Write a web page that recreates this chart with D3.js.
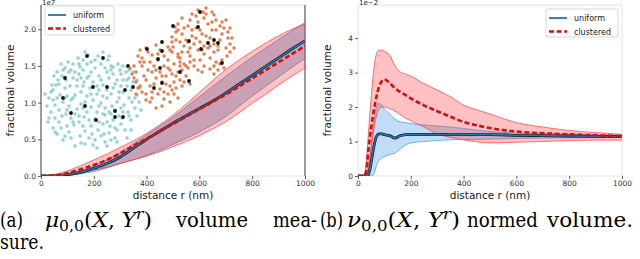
<!DOCTYPE html>
<html lang="en">
<head>
<meta charset="utf-8">
<style type="text/css">
    body { margin: 0; background: #fff; }
    .tick text { font-family: "DejaVu Sans", sans-serif; font-size: 7.5px; fill: #333; }
    .tick line { stroke: #333; stroke-width: 0.8; }
    .axlabel { font-family: "DejaVu Sans", sans-serif; font-size: 10.5px; fill: #222; }
    .legtext { font-family: "DejaVu Sans", sans-serif; font-size: 8px; fill: #222; }
    .cap { font-family: "DejaVu Serif", serif; font-size: 19.5px; fill: #000; }
</style>
</head>
<body>
<svg width="640" height="259"></svg>
<script src="https://d3js.org/d3.v7.min.js"></script>
<script type="text/javascript">

    // (a) volume measure, units of 1e7
    var rA = [0, 50, 100, 150, 200, 250, 300, 350, 400, 450, 500, 550, 600, 650, 700, 750, 800, 850, 900, 950, 1000];
    var uniformMeanA   = [0, 0.003, 0.02, 0.05, 0.105, 0.17, 0.26, 0.38, 0.50, 0.61, 0.72, 0.82, 0.92, 1.02, 1.13, 1.25, 1.37, 1.49, 1.61, 1.73, 1.84];
    var uniformHiA     = [0, 0.005, 0.03, 0.07, 0.14, 0.22, 0.32, 0.44, 0.56, 0.68, 0.80, 0.94, 1.08, 1.22, 1.36, 1.49, 1.62, 1.74, 1.86, 1.98, 2.09];
    var uniformLoA     = [0, 0.001, 0.01, 0.03, 0.06, 0.11, 0.17, 0.22, 0.28, 0.35, 0.43, 0.51, 0.60, 0.70, 0.81, 0.95, 1.09, 1.22, 1.35, 1.48, 1.60];
    var clusteredMeanA = [0, 0.008, 0.04, 0.09, 0.15, 0.22, 0.31, 0.41, 0.51, 0.61, 0.71, 0.81, 0.91, 1.01, 1.11, 1.22, 1.33, 1.44, 1.55, 1.66, 1.77];
    var clusteredHiA   = [0, 0.02, 0.07, 0.14, 0.22, 0.30, 0.39, 0.48, 0.58, 0.70, 0.83, 0.98, 1.14, 1.30, 1.45, 1.58, 1.70, 1.81, 1.91, 2.00, 2.07];
    var clusteredLoA   = [0, 0.0, 0.01, 0.04, 0.08, 0.12, 0.17, 0.22, 0.27, 0.33, 0.40, 0.47, 0.55, 0.64, 0.74, 0.86, 0.99, 1.11, 1.24, 1.36, 1.47];

    // (b) normed volume, units of 1e-2
    var rB = [0, 20, 30, 40, 50, 60, 70, 80, 90, 100, 120, 140, 160, 180, 200, 250, 300, 350, 400, 450, 500, 600, 700, 800, 900, 1000];
    var uniformMeanB   = [0, 0, 0, 0.05, 0.4, 0.85, 1.15, 1.22, 1.22, 1.2, 1.17, 1.1, 1.17, 1.2, 1.21, 1.21, 1.21, 1.2, 1.2, 1.2, 1.2, 1.18, 1.17, 1.16, 1.15, 1.14];
    var uniformHiB     = [0, 0, 0, 0.2, 0.9, 1.6, 2.0, 2.1, 2.05, 1.95, 1.8, 1.65, 1.57, 1.55, 1.52, 1.48, 1.45, 1.42, 1.38, 1.33, 1.29, 1.25, 1.23, 1.21, 1.19, 1.18];
    var uniformLoB     = [0, 0, 0, 0, 0, 0.05, 0.3, 0.45, 0.52, 0.56, 0.62, 0.66, 0.78, 0.9, 0.96, 1.0, 1.03, 1.05, 1.06, 1.06, 1.07, 1.09, 1.1, 1.11, 1.11, 1.12];
    var clusteredMeanB = [0, 0, 0.1, 0.8, 1.4, 1.9, 2.3, 2.6, 2.75, 2.8, 2.7, 2.55, 2.44, 2.35, 2.25, 2.05, 1.88, 1.72, 1.57, 1.47, 1.39, 1.29, 1.24, 1.21, 1.18, 1.16];
    var clusteredHiB   = [0, 0, 0.3, 1.3, 2.3, 3.1, 3.55, 3.65, 3.65, 3.62, 3.5, 3.2, 3.02, 2.96, 2.9, 2.68, 2.5, 2.3, 2.06, 1.92, 1.8, 1.55, 1.42, 1.32, 1.26, 1.21];
    var clusteredLoB   = [0, 0, 0, 0.3, 0.8, 1.35, 1.75, 1.95, 2.0, 2.0, 1.95, 1.88, 1.78, 1.68, 1.6, 1.42, 1.22, 1.12, 1.05, 0.99, 0.96, 0.98, 1.0, 1.03, 1.04, 1.04];

    var xTicks = [0, 200, 400, 600, 800, 1000];
    var yTicksA = [0, 0.5, 1.0, 1.5, 2.0];
    var yTicksB = [0, 1, 2, 3, 4];
    var legendNames = ["uniform", "clustered"];

    // inset point clouds (offsets from each cloud's centre)
    var cyanPts = [[-40,-10],[-35,-20],[-38,5],[-42,12],[-30,-30],[-25,-38],[-15,-42],[-5,-45],[5,-44],[15,-40],[25,-36],[33,-28],[40,-18],[44,-5],[42,8],[38,20],[32,30],[22,38],[12,42],[0,45],[-12,43],[-22,38],[-32,28],[-38,18],
        [-28,-12],[-20,-22],[-10,-30],[2,-32],[14,-28],[24,-20],[30,-8],[31,5],[26,16],[17,26],[5,30],[-8,31],[-19,25],[-27,14],[-30,2],
        [-18,-5],[-10,-14],[0,-18],[10,-15],[18,-6],[19,6],[12,15],[2,19],[-9,17],[-16,9],[-6,-4],[4,-6],[8,3],[-2,7],[0,0],
        [-44,-2],[-36,-28],[-20,-36],[-2,-38],[20,-33],[36,-22],[46,2],[35,12],[28,24],[16,33],[-4,38],[-24,32],[-34,22],[-41,-15],
        [-33,-5],[-24,-28],[-12,-22],[6,-24],[20,-12],[26,-2],[22,10],[10,24],[-14,22],[-24,6],[-12,-8],[6,-10],[12,8],[-6,12],[-3,-12],[14,-2],
        [-46,6],[-39,-24],[-8,-48],[10,-48],[30,-34],[47,-12],[44,16],[24,42],[4,48],[-18,46],[-36,34],[-45,22],
        [-27,-20],[-16,-14],[-4,-24],[16,-22],[28,-14],[36,-2],[34,-14],[30,12],[20,20],[-2,26],[-10,26],[-22,18],[-34,10],[-36,-2],
        [-20,-2],[-8,2],[10,-4],[4,12],[-12,4],[24,2],[-26,-4],[8,-20],[-18,14],[14,22],
        [-40,28],[-14,-36],[40,-28],[38,30],[-30,40],[8,36],[-42,-8],[28,-26],[2,-40],[-28,-32],[18,40],[42,-2],
        [-37,-15],[-31,-24],[-22,-30],[-13,-33],[-6,-36],[8,-36],[18,-34],[27,-30],[34,-20],[38,-10],[39,2],[36,16],[29,18],[22,28],[11,34],[-1,34],[-13,36],[-26,26],[-31,16],[-40,0],
        [-23,-14],[-14,-26],[-2,-28],[12,-32],[20,-26],[26,-8],[28,8],[18,14],[6,22],[-4,20],[-14,16],[-22,0],[-9,-18],[4,-14],[14,-10],[16,12],[-6,-22],[22,-16],[-20,22],[-28,-2],
        [-44,18],[-48,-6],[-32,-36],[-10,-40],[16,-44],[36,-30],[44,-20],[48,10],[34,38],[14,46],[-8,44],[-28,36],[-38,32],
        [-2,-6],[6,6],[-10,8],[10,14],[-16,-20],[18,-30],[30,-20],[24,30],[-26,10],[-34,-16],[2,40],[-18,-28]];
    var cyanBlack = [[-28,-22],[-6,-44],[10,-42],[35,-34],[40,-13],[0,-13],[14,-13],[32,-10],[-8,6],[-22,13],[3,20],[22,11],[22,17],[30,17],[-30,-2]];

    var orangePts = [[-13,-21],[-10,-31],[-3,-40],[7,-44],[18,-46],[29,-43],[37,-36],[43,-26],[45,-14],[42,-2],[35,6],[25,11],[13,12],[1,8],[-7,-1],[-12,-11],
        [-3,-24],[3,-32],[13,-36],[23,-34],[31,-28],[35,-18],[33,-8],[25,0],[15,2],[5,-2],[-1,-12],[7,-22],[17,-24],[25,-20],[23,-10],[13,-8],[9,-14],[15,-16],
        [-7,-34],[41,-38],[47,-20],[39,10],[-5,8],[21,-50],[-15,-8],[29,16],[1,-18],[29,-14],[19,-4],[11,-30],[37,-24],[5,4],[27,-36],[-9,-18],[41,-10],[31,4],[9,8],[19,-40],
        [-51,8],[-47,-2],[-39,-10],[-29,-13],[-17,-11],[-7,-4],[-1,6],[1,18],[-3,28],[-11,36],[-21,41],[-33,40],[-43,34],[-49,24],
        [-41,4],[-33,-3],[-21,-2],[-11,6],[-9,18],[-15,28],[-25,31],[-35,28],[-41,18],[-31,8],[-21,8],[-19,18],[-29,20],[-25,14],
        [-53,16],[-45,-8],[-13,-16],[3,10],[-7,40],[-39,42],[-23,48],[5,26],[-37,12],[-15,12],[-23,24],[-27,2],[-5,4],[-33,34],[-11,24],[-45,28],[-17,36],[-43,0],
        [-9,-26],[-5,-16],[-1,-30],[5,-38],[11,-42],[21,-44],[31,-38],[39,-30],[43,-20],[45,-6],[37,2],[29,8],[19,8],[9,2],[3,-6],[-3,-6],
        [7,-28],[15,-28],[21,-22],[27,-28],[33,-12],[29,-6],[19,-12],[11,-20],[5,-10],[17,-8],[25,-12],[3,-16],[-7,-28],[35,-32],[27,-46],[13,-48],[45,-30],[49,-10],[33,12],[17,14],
        [-49,14],[-45,4],[-37,-6],[-25,-8],[-13,-6],[-5,0],[-3,12],[-5,22],[-13,32],[-27,36],[-39,36],[-47,30],[-51,20],
        [-35,4],[-27,-4],[-17,2],[-13,16],[-19,26],[-31,26],[-39,22],[-33,14],[-23,18],[-17,10],[-29,12],[-43,8],[-7,14],[-9,30],[-21,34],[-35,44],[-49,36],[-55,10],[-1,24],[-15,44],[-29,50]];
    var orangeBlack = [[15,-46],[-12,-32],[13,-31],[-23,-16],[4,-17],[23,-15],[29,-18],[33,-15],[-38,-9],[-23,-7],[16,-9],[-27,1],[37,5],[-25,10],[-5,14],[4,23],[-31,30],[-23,25]];

    var blue = "#1f77b4", red = "#cc1111";

    var svg = d3.select("svg");

    var xa = d3.scaleLinear().domain([0, 1000]).range([41, 305]);
    var ya = d3.scaleLinear().domain([0, 2.33]).range([176, 5]);
    var xb = d3.scaleLinear().domain([0, 1000]).range([358, 622]);
    var yb = d3.scaleLinear().domain([0, 4.96]).range([176, 5]);

    // cloud scales
    var xCyan = d3.scaleLinear().domain([-50, 50]).range([43, 143]);
    var yCyan = d3.scaleLinear().domain([-50, 50]).range([50, 150]);
    var xOr = d3.scaleLinear().domain([-50, 50]).range([135, 235]);
    var yOr = d3.scaleLinear().domain([-50, 50]).range([8, 108]);

    function clip(id, x, y) {
        svg.append("clipPath").attr("id", id).append("rect")
            .attr("x", x.range()[0]).attr("y", y.range()[1])
            .attr("width", x.range()[1] - x.range()[0])
            .attr("height", y.range()[0] - y.range()[1]);
    }
    clip("clipA", xa, ya);
    clip("clipB", xb, yb);

    function frame(x, y, leftCol, rightCol) {
        var g = svg.append("g");
        var x0 = x.range()[0], x1 = x.range()[1], y0 = y.range()[1], y1 = y.range()[0];
        g.append("line").attr("x1", x0).attr("x2", x1).attr("y1", y0).attr("y2", y0).attr("stroke", "#ddd").attr("stroke-width", 0.8);
        g.append("line").attr("x1", x0).attr("x2", x1).attr("y1", y1).attr("y2", y1).attr("stroke", "#ddd").attr("stroke-width", 0.8);
        g.append("line").attr("x1", x0).attr("x2", x0).attr("y1", y0).attr("y2", y1).attr("stroke", leftCol).attr("stroke-width", 0.9);
        g.append("line").attr("x1", x1).attr("x2", x1).attr("y1", y0).attr("y2", y1).attr("stroke", rightCol).attr("stroke-width", 0.9);
    }

    function axes(x, y, yTicks, yFmt) {
        var gx = svg.append("g").attr("transform", "translate(0," + y.range()[0] + ")")
            .call(d3.axisBottom(x).tickValues(xTicks).tickSize(3).tickPadding(2).tickFormat(d3.format("d")));
        gx.select(".domain").remove();
        var gy = svg.append("g").attr("transform", "translate(" + x.range()[0] + ",0)")
            .call(d3.axisLeft(y).tickValues(yTicks).tickSize(3).tickPadding(2).tickFormat(yFmt));
        gy.select(".domain").remove();
        svg.append("text").attr("class", "axlabel")
            .attr("x", (x.range()[0] + x.range()[1]) / 2).attr("y", 199)
            .attr("text-anchor", "middle").text("distance r (nm)");
        svg.append("text").attr("class", "axlabel")
            .attr("transform", "translate(" + (x.range()[0] - 27) + "," + ((y.range()[0] + y.range()[1]) / 2) + ") rotate(-90)")
            .attr("text-anchor", "middle").text("fractional volume");
    }

    function band(g, x, y, rs, lo, hi, col, op) {
        var pts = rs.map(function (r, i) { return [r, lo[i], hi[i]]; });
        g.append("path").datum(pts)
            .attr("d", d3.area().x(function (d) { return x(d[0]); }).y0(function (d) { return y(d[1]); }).y1(function (d) { return y(d[2]); }).curve(d3.curveMonotoneX))
            .attr("fill", col).attr("fill-opacity", op).attr("stroke", "none");
        [lo, hi].forEach(function (s) {
            g.append("path").datum(rs.map(function (r, i) { return [r, s[i]]; }))
                .attr("d", d3.line().x(function (d) { return x(d[0]); }).y(function (d) { return y(d[1]); }).curve(d3.curveMonotoneX))
                .attr("fill", "none").attr("stroke", col).attr("stroke-width", 0.8).attr("stroke-opacity", 0.75);
        });
    }

    function meanLine(g, x, y, rs, vals, kind) {
        var ln = d3.line().x(function (d) { return x(d[0]); }).y(function (d) { return y(d[1]); }).curve(d3.curveMonotoneX);
        var data = rs.map(function (r, i) { return [r, vals[i]]; });
        if (kind === "uniform") {
            g.append("path").datum(data).attr("d", ln).attr("fill", "none").attr("stroke", "#111").attr("stroke-width", 2.8);
            g.append("path").datum(data).attr("d", ln).attr("fill", "none").attr("stroke", blue).attr("stroke-width", 1.6);
        } else {
            g.append("path").datum(data).attr("d", ln).attr("fill", "none").attr("stroke", red)
                .attr("stroke-width", 2.6).attr("stroke-dasharray", "5,2.6");
        }
    }

    function legend(x0, y0, w, h) {
        var g = svg.append("g");
        g.append("rect").attr("x", x0).attr("y", y0).attr("width", w).attr("height", h).attr("rx", 2)
            .attr("fill", "#fff").attr("fill-opacity", 0.85).attr("stroke", "#ccc").attr("stroke-width", 0.8);
        legendNames.forEach(function (name, i) {
            var yy = y0 + 9 + i * 13.5;
            if (i === 0) {
                g.append("line").attr("x1", x0 + 3).attr("x2", x0 + 21).attr("y1", yy).attr("y2", yy)
                    .attr("stroke", blue).attr("stroke-width", 1.8);
            } else {
                g.append("line").attr("x1", x0 + 3).attr("x2", x0 + 21).attr("y1", yy).attr("y2", yy)
                    .attr("stroke", red).attr("stroke-width", 2.6).attr("stroke-dasharray", "5,2.6");
            }
            g.append("text").attr("class", "legtext").attr("x", x0 + 28).attr("y", yy + 3).text(name);
        });
    }

    // ---------- panel (a)
    frame(xa, ya, "#222", "#222");

    var cloud = svg.append("g");
    cloud.selectAll(".cy").data(cyanPts).enter().append("rect")
        .attr("x", function (d) { return xCyan(d[0]) - 1.15; }).attr("y", function (d) { return yCyan(d[1]) - 1.15; })
        .attr("width", 2.3).attr("height", 2.3)
        .attr("fill", "#93dade").attr("stroke", "#6ab4bb").attr("stroke-width", 0.4);
    cloud.selectAll(".cyb").data(cyanBlack).enter().append("circle")
        .attr("cx", function (d) { return xCyan(d[0]); }).attr("cy", function (d) { return yCyan(d[1]); })
        .attr("r", 1.9).attr("fill", "#111");
    cloud.selectAll(".or").data(orangePts).enter().append("rect")
        .attr("x", function (d) { return xOr(d[0]) - 1.15; }).attr("y", function (d) { return yOr(d[1]) - 1.15; })
        .attr("width", 2.3).attr("height", 2.3)
        .attr("fill", "#ee7a44").attr("stroke", "#d0602c").attr("stroke-width", 0.4);
    cloud.selectAll(".orb").data(orangeBlack).enter().append("circle")
        .attr("cx", function (d) { return xOr(d[0]); }).attr("cy", function (d) { return yOr(d[1]); })
        .attr("r", 1.9).attr("fill", "#111");

    var ga = svg.append("g").attr("clip-path", "url(#clipA)");
    band(ga, xa, ya, rA, uniformLoA, uniformHiA, "#2f7fd0", 0.35);
    band(ga, xa, ya, rA, clusteredLoA, clusteredHiA, "#ff2020", 0.28);
    meanLine(ga, xa, ya, rA, uniformMeanA, "uniform");
    meanLine(ga, xa, ya, rA, clusteredMeanA, "clustered");
    axes(xa, ya, yTicksA, d3.format(".1f"));
    legend(45, 6, 69, 29);
    svg.append("text").attr("class", "legtext").attr("x", 42).attr("y", 4.5).style("font-size", "7px").text("1e7");

    // ---------- panel (b)
    frame(xb, yb, "#ddd", "#ddd");
    var gb = svg.append("g").attr("clip-path", "url(#clipB)");
    band(gb, xb, yb, rB, uniformLoB, uniformHiB, "#2f8ae0", 0.3);
    band(gb, xb, yb, rB, clusteredLoB, clusteredHiB, "#ff2020", 0.28);
    meanLine(gb, xb, yb, rB, uniformMeanB, "uniform");
    meanLine(gb, xb, yb, rB, clusteredMeanB, "clustered");
    axes(xb, yb, yTicksB, d3.format("d"));
    legend(546, 9, 72, 28);
    svg.append("text").attr("class", "legtext").attr("x", 359).attr("y", 4.5).style("font-size", "7px").text("1e\u22122");

    // ---------- captions
    function word(x, y, w, str) {
        svg.append("text").attr("class", "cap").attr("x", x).attr("y", y)
            .attr("textLength", w).attr("lengthAdjust", "spacingAndGlyphs").text(str);
    }
    function math(x, y, w, sym) {
        var t = svg.append("text").attr("class", "cap").attr("x", x).attr("y", y)
            .attr("textLength", w).attr("lengthAdjust", "spacingAndGlyphs");
        t.append("tspan").style("font-style", "italic").text(sym);
        t.append("tspan").style("font-size", "14px").attr("dy", 4).text("0,0");
        t.append("tspan").attr("dy", -4).text("(");
        t.append("tspan").style("font-style", "italic").text("X");
        t.append("tspan").text(", ");
        t.append("tspan").style("font-style", "italic").text("Y");
        t.append("tspan").style("font-size", "14px").style("font-style", "italic").attr("dy", -8).text("r");
        t.append("tspan").attr("dy", 8).text(")");
    }
    word(0, 227, 23, "(a)");
    math(45, 227, 107, "\u03bc");
    word(176, 227, 72, "volume");
    word(273, 227, 44, "mea-");
    word(0, 249, 44, "sure.");
    word(320, 227, 23, "(b)");
    math(347, 227, 113, "\u03bd");
    word(467, 227, 71, "normed");
    word(547, 227, 86, "volume.");

</script>
</body>
</html>
